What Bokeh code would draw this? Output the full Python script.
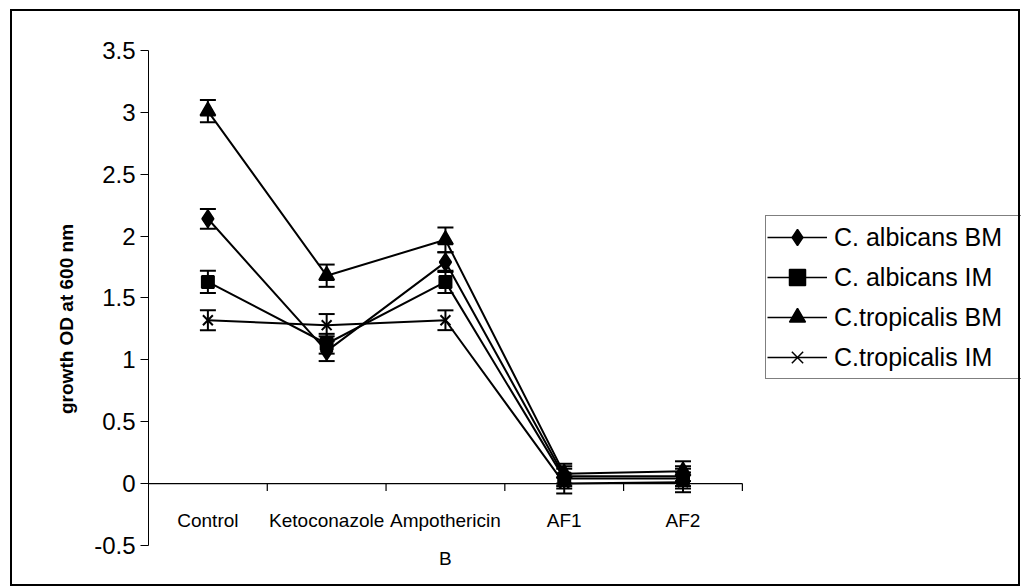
from bokeh.plotting import figure
from bokeh.models import (Range1d, FixedTicker, Whisker, TeeHead, ColumnDataSource,
                          Legend, LegendItem, Label, InlineStyleSheet)
from bokeh.embed import file_html
from bokeh.resources import INLINE

categories = ["Control", "Ketoconazole", "Ampothericin\nB", "AF1", "AF2"]
series_names = ["C. albicans BM", "C. albicans IM", "C.tropicalis BM", "C.tropicalis IM"]
albicans_bm = [2.14, 1.07, 1.79, 0.06, 0.06]
albicans_im = [1.63, 1.13, 1.63, 0.04, 0.04]
tropicalis_bm = [3.01, 1.68, 1.97, 0.08, 0.10]
tropicalis_im = [1.32, 1.28, 1.32, 0.00, 0.01]
err_albicans_bm = [0.08, 0.08, 0.08, 0.08, 0.08]
err_albicans_im = [0.09, 0.08, 0.09, 0.08, 0.08]
err_tropicalis_bm = [0.09, 0.09, 0.10, 0.08, 0.08]
err_tropicalis_im = [0.08, 0.09, 0.08, 0.08, 0.08]
y_ticks = [-0.5, 0, 0.5, 1, 1.5, 2, 2.5, 3, 3.5]

FONT = "Liberation Sans"
n = len(categories)

p = figure(width=1021, height=587, output_backend="svg", toolbar_location=None,
           x_range=Range1d(0, 7.35), y_range=Range1d(-0.84, 3.5),
           x_axis_location=None, min_border_left=148, min_border_right=0,
           min_border_top=50, min_border_bottom=0)
p.outline_line_color = None
p.xgrid.visible = False
p.ygrid.visible = False
p.background_fill_color = "white"
p.border_fill_color = "white"

ax = p.yaxis[0]
ax.bounds = (-0.5, 3.5)
ax.ticker = FixedTicker(ticks=y_ticks)
ax.major_label_overrides = {t: f"{t:g}" for t in y_ticks}
ax.minor_tick_line_color = None
ax.major_tick_in = 0
ax.major_tick_out = 8
ax.major_tick_line_width = 1
ax.axis_line_width = 1
ax.major_label_text_font = FONT
ax.major_label_text_font_size = "24px"
ax.major_label_text_color = "black"
ax.major_label_standoff = 5
ax.axis_label = "growth OD at 600 nm"
ax.axis_label_text_font = FONT
ax.axis_label_text_font_size = "19px"
ax.axis_label_text_font_style = "bold"
ax.axis_label_text_color = "black"
ax.axis_label_standoff = 14

# zero line acting as the category axis, with boundary ticks
p.segment(x0=[0], x1=[n], y0=[0], y1=[0], line_color="black", line_width=1.2)
bx = list(range(1, n + 1))
p.segment(x0=bx, x1=bx, y0=[0] * len(bx), y1=[-0.06] * len(bx), line_color="black", line_width=1.2)

for i, c in enumerate(categories):
    p.add_layout(Label(x=i + 0.5, y=-0.21, text=c, text_align="center", text_baseline="top",
                       text_font=FONT, text_font_size="19px", text_color="black",
                       text_line_height=1.85))

xs = [i + 0.5 for i in range(n)]
data = [albicans_bm, albicans_im, tropicalis_bm, tropicalis_im]
errs = [err_albicans_bm, err_albicans_im, err_tropicalis_bm, err_tropicalis_im]
markers = ["diamond", "square", "triangle", "x"]
sizes = [17, 12, 15, 14]
legend_sizes = [13, 9, 12, 10]

items = []
for name, ys, es, mk, sz, lsz in zip(series_names, data, errs, markers, sizes, legend_sizes):
    src = ColumnDataSource(dict(x=xs, y=ys, lo=[a - b for a, b in zip(ys, es)],
                                hi=[a + b for a, b in zip(ys, es)]))
    w = Whisker(base="x", upper="hi", lower="lo", source=src, dimension="height",
                line_color="black", line_width=2,
                upper_head=TeeHead(size=16, line_color="black", line_width=2),
                lower_head=TeeHead(size=16, line_color="black", line_width=2))
    p.add_layout(w)
    p.line("x", "y", source=src, line_color="black", line_width=2)
    p.scatter("x", "y", source=src, marker=mk, size=sz, fill_color="black",
              line_color="black", line_width=2)
    # legend swatches (smaller markers, as in the reference legend)
    lln = p.line("x", "y", source=src, line_color="black", line_width=1.5, visible=False)
    lmr = p.scatter("x", "y", source=src, marker=mk, size=lsz, fill_color="black",
                    line_color="black", line_width=1.5, visible=False)
    items.append(LegendItem(label=name, renderers=[lln, lmr]))

legend = Legend(items=items, location=(617, 208), orientation="vertical",
                label_text_font=FONT, label_text_font_size="25px", label_text_color="black",
                glyph_width=60, glyph_height=40, label_height=40, label_width=200,
                spacing=0, padding=1, margin=0, label_standoff=7,
                border_line_color="black", border_line_width=1,
                background_fill_color="white", background_fill_alpha=1)
p.add_layout(legend, "center")

# outer chart-area border
p.stylesheets = [InlineStyleSheet(css="""
:host { position: relative; }
:host::after { content: ''; position: absolute; left: 10px; top: 9px; right: 1px; bottom: 1px;
  border: 2.5px solid black; pointer-events: none; }
""")]

open("out.html", "w").write(file_html(p, INLINE))
